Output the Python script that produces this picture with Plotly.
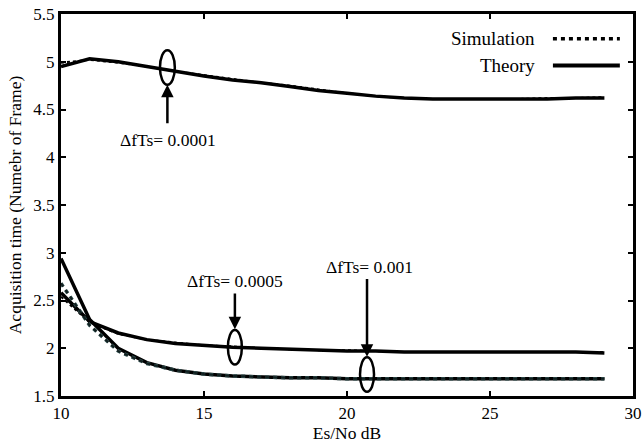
import plotly.graph_objects as go

snr = [10, 11, 12, 13, 14, 15, 16, 17, 18, 19, 20, 21, 22, 23, 24, 25, 26, 27, 28, 29]

theory_0001 = [4.95, 5.03, 5.00, 4.95, 4.90, 4.85, 4.81, 4.78, 4.74, 4.70, 4.67, 4.64, 4.62, 4.61, 4.61, 4.61, 4.61, 4.61, 4.62, 4.62]
sim_0001 = [4.99, 5.02, 4.99, 4.95, 4.90, 4.86, 4.82, 4.78, 4.75, 4.71, 4.67, 4.64, 4.62, 4.61, 4.61, 4.61, 4.61, 4.62, 4.62, 4.63]

theory_0005 = [2.58, 2.28, 2.16, 2.09, 2.05, 2.03, 2.01, 2.00, 1.99, 1.98, 1.97, 1.97, 1.96, 1.96, 1.96, 1.96, 1.96, 1.96, 1.96, 1.95]
sim_0005 = [2.54, 2.27, 2.15, 2.09, 2.06, 2.03, 2.02, 2.00, 1.99, 1.98, 1.98, 1.97, 1.96, 1.96, 1.96, 1.96, 1.96, 1.96, 1.96, 1.96]

theory_001 = [2.94, 2.30, 2.00, 1.85, 1.77, 1.73, 1.71, 1.70, 1.69, 1.69, 1.68, 1.68, 1.68, 1.68, 1.68, 1.68, 1.68, 1.68, 1.68, 1.68]
sim_001 = [2.68, 2.24, 1.97, 1.84, 1.77, 1.73, 1.71, 1.70, 1.69, 1.69, 1.68, 1.68, 1.68, 1.68, 1.68, 1.68, 1.68, 1.68, 1.68, 1.68]

x_ticks = [10, 15, 20, 25, 30]
y_ticks = [1.5, 2, 2.5, 3, 3.5, 4, 4.5, 5, 5.5]

FONT = "Liberation Serif"

fig = go.Figure()
for y in [theory_0001, theory_0005, theory_001]:
    fig.add_trace(go.Scatter(x=snr, y=y, mode="lines", line=dict(color="black", width=3.5), showlegend=False))
for y in [sim_0001, sim_0005]:
    fig.add_trace(go.Scatter(x=snr, y=y, mode="lines", line=dict(color="black", width=2, dash="3px,3px"), showlegend=False))
fig.add_trace(go.Scatter(x=snr, y=sim_001, mode="lines", line=dict(color="#2F4F4F", width=3.5, dash="4px,4px"), showlegend=False))
fig.add_trace(go.Scatter(x=snr, y=sim_001, mode="lines", line=dict(color="black", width=2, dash="4px,4px"), showlegend=False, opacity=0.6))

# Ellipses (center x, center y, half-width, half-height) marking each curve group
ellipses = [(13.72, 4.94, 0.26, 0.18), (16.08, 2.01, 0.245, 0.18), (20.7, 1.725, 0.245, 0.18)]
for cx, cy, rx, ry in ellipses:
    fig.add_shape(type="circle", xref="x", yref="y", x0=cx - rx, x1=cx + rx, y0=cy - ry, y1=cy + ry,
                  line=dict(color="black", width=2.5))

# arrows: x, head y, tail y, label, label x, label y
arrows = [
    (13.72, 4.76, 4.34, "ΔfTs= 0.0001", 13.74, 4.18),
    (16.08, 2.20, 2.59, "ΔfTs= 0.0005", 16.08, 2.70),
    (20.7, 1.91, 2.74, "ΔfTs= 0.001", 20.8, 2.85),
]
for x, yhead, ytail, label, tx, ty in arrows:
    fig.add_annotation(x=x, y=yhead, ax=x, ay=ytail, xref="x", yref="y", axref="x", ayref="y",
                       showarrow=True, arrowhead=2, arrowsize=1, arrowwidth=2.5, arrowcolor="black", text="")
    fig.add_annotation(x=tx, y=ty, xref="x", yref="y", text=label, showarrow=False,
                       font=dict(family=FONT, size=17.5, color="black"))

# Manual legend (text left, line sample right)
fig.add_annotation(x=0.832, y=0.935, xref="paper", yref="paper", text="Simulation", showarrow=False,
                   xanchor="right", yanchor="middle", font=dict(family=FONT, size=19, color="black"))
fig.add_annotation(x=0.832, y=0.864, xref="paper", yref="paper", text="Theory", showarrow=False,
                   xanchor="right", yanchor="middle", font=dict(family=FONT, size=19, color="black"))
fig.add_shape(type="line", xref="paper", yref="paper", x0=0.86, x1=0.977, y0=0.935, y1=0.935,
              line=dict(color="black", width=3.5, dash="4px,4px"))
fig.add_shape(type="line", xref="paper", yref="paper", x0=0.86, x1=0.977, y0=0.865, y1=0.865,
              line=dict(color="black", width=4))

axis_common = dict(showline=True, linecolor="black", linewidth=3, mirror="ticks", ticks="inside",
                   ticklen=5, tickwidth=2, tickcolor="black", showgrid=False, zeroline=False,
                   automargin=False, tickfont=dict(family=FONT, size=17, color="black"))

fig.update_xaxes(range=[10, 30], tickvals=x_ticks, ticktext=[str(v) for v in x_ticks],
                 title=dict(text="Es/No dB", font=dict(family=FONT, size=17.5, color="black"), standoff=4),
                 **axis_common)
fig.update_yaxes(range=[1.5, 5.5], tickvals=y_ticks, ticktext=[f"{v:g}" for v in y_ticks],
                 title=dict(text="Acquisition time (Numebr of Frame)", font=dict(family=FONT, size=17.5, color="black"), standoff=8),
                 **axis_common)

fig.update_layout(width=642, height=445, margin=dict(l=61, r=9, t=14, b=49),
                  plot_bgcolor="white", paper_bgcolor="white", showlegend=False)

# remove the browser's default body margin so the figure sits at the page origin
fig.write_html("out.html", config={"displayModeBar": False},
               post_script="document.body.style.margin='0px'; document.body.style.overflow='hidden';")
